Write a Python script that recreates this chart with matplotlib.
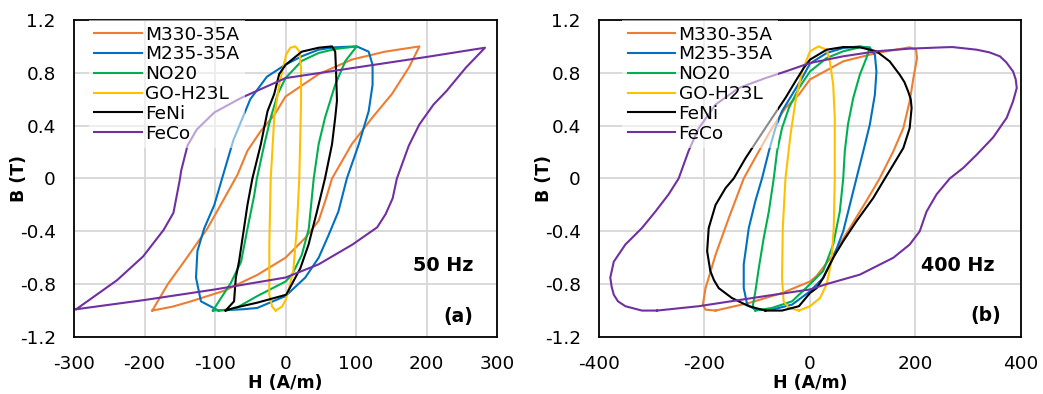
import matplotlib
matplotlib.use('Agg')
import matplotlib.pyplot as plt

# the reference text is wide (stretched Arial), DejaVu Sans matches its widths best
plt.rcParams['font.family'] = ['DejaVu Sans']
plt.rcParams['axes.unicode_minus'] = False

labels = ['M330-35A', 'M235-35A', 'NO20', 'GO-H23L', 'FeNi', 'FeCo']
colors = ['#ED7D31', '#0070C0', '#00B050', '#FFC000', '#000000', '#7030A0']

b_ticks = [-1.2, -0.8, -0.4, 0, 0.4, 0.8, 1.2]
b_tick_labels = ['-1.2', '-0.8', '-0.4', '0', '0.4', '0.8', '1.2']
h_ticks_50 = [-300, -200, -100, 0, 100, 200, 300]
h_ticks_400 = [-400, -200, 0, 200, 400]

# ---- 50 Hz loops (H in A/m, B in T) ----
m330_50_h = [-189, -160, -134, -87, -40, 0, 28, 47, 57, 66, 94, 123, 151, 175, 190, 141, 94, 47, 0, -16, -35,
             -54, -68, -92, -111, -144, -167, -189]
m330_50_b = [-1.0, -0.97, -0.93, -0.85, -0.73, -0.60, -0.45, -0.32, -0.16, 0.0, 0.26, 0.46, 0.64, 0.84, 1.0,
             0.96, 0.90, 0.79, 0.62, 0.48, 0.36, 0.21, 0.03, -0.2, -0.38, -0.63, -0.80, -1.0]

m235_50_h = [-95, -60, -40, 0, 28, 47, 61, 75, 87, 104, 118, 123.5, 123.5, 118, 101, 70, 47, 23, 0, -26.5, -50,
             -74, -90, -101, -115.5, -125, -127, -120, -95]
m235_50_b = [-1.0, -0.99, -0.98, -0.89, -0.75, -0.60, -0.43, -0.25, 0.0, 0.26, 0.51, 0.71, 0.86, 0.96, 1.0, 0.993,
             0.975, 0.925, 0.862, 0.77, 0.60, 0.29, 0.0, -0.2, -0.38, -0.55, -0.75, -0.93, -1.0]

no20_50_h = [-103, -73, -40, 0, 9, 23, 33, 40, 47, 56, 70.5, 85, 101, 70.5, 47, 23, 0, -11, -21, -30, -40.6,
             -44.5, -54, -63, -77.5, -103]
no20_50_b = [-1.0, -0.99, -0.89, -0.78, -0.73, -0.58, -0.38, 0.0, 0.26, 0.46, 0.71, 0.89, 1.0, 0.98, 0.95, 0.89,
             0.76, 0.64, 0.46, 0.26, 0.0, -0.13, -0.38, -0.63, -0.79, -1.0]

go_50_h = [-14, -5, 0, 4, 11, 16, 19.5, 21, 22, 22, 19.5, 14, 6.7, 1, -9, -16, -21, -23, -23, -19, -14]
go_50_b = [-1.0, -0.97, -0.92, -0.85, -0.70, -0.38, 0.0, 0.33, 0.585, 0.836, 0.963, 1.0, 0.99, 0.94, 0.71, 0.46,
           0.0, -0.5, -0.88, -0.97, -1.0]

feni_50_h = [-85, -73, -40, 1, 9, 21, 32.7, 44.6, 56, 66, 70.5, 73, 71.5, 70.5, 66, 47, 23, 0, -9, -16, -25.5,
             -35, -47, -54, -59, -66, -70.5, -73, -85]
feni_50_b = [-1.0, -0.98, -0.94, -0.88, -0.80, -0.68, -0.50, -0.25, 0.0, 0.26, 0.46, 0.59, 0.84, 0.96, 1.0, 0.99,
             0.96, 0.86, 0.79, 0.64, 0.51, 0.26, 0.0, -0.2, -0.38, -0.63, -0.75, -0.93, -1.0]

feco_50_h = [-297, -200, -100, 0, 47, 95, 130, 142, 152, 158, 175, 190, 210, 228, 256, 283, 200, 100, 0, -63,
             -101, -126, -139, -148, -150, -159, -173, -202, -239, -297]
feco_50_b = [-0.99, -0.92, -0.84, -0.75, -0.65, -0.50, -0.37, -0.27, -0.15, 0.0, 0.25, 0.41, 0.56, 0.66, 0.84,
             0.99, 0.92, 0.84, 0.76, 0.61, 0.50, 0.37, 0.25, 0.06, -0.01, -0.26, -0.39, -0.59, -0.77, -0.99]

# ---- 400 Hz loops ----
m330_400_h = [-179, -116, -53, 0, 12, 44, 75.5, 107, 132, 158, 177, 189, 196, 203, 201, 189, 126, 63, 0, -21,
              -46.5, -72, -97, -125.6, -154, -179, -198, -203, -198, -179]
m330_400_b = [-1.0, -0.943, -0.867, -0.78, -0.74, -0.577, -0.375, -0.17, 0.0, 0.206, 0.382, 0.585, 0.76, 0.912,
              0.975, 0.993, 0.95, 0.887, 0.75, 0.635, 0.534, 0.382, 0.206, 0.0, -0.30, -0.577, -0.83, -0.955,
              -0.993, -1.0]

m235_400_h = [-72, -34, 0, 25, 44, 63, 75.5, 88, 101, 113.5, 123, 126, 123, 113.5, 94.5, 63, 31.6, 0, -15, -34,
              -53, -65.5, -78, -91, -103.5, -116, -125.6, -125.6, -119, -103.5, -72]
m235_400_b = [-0.993, -0.955, -0.854, -0.753, -0.60, -0.40, -0.2, 0.0, 0.206, 0.41, 0.635, 0.81, 0.937, 0.988,
              1.0, 0.988, 0.95, 0.87, 0.76, 0.635, 0.51, 0.382, 0.206, 0.0, -0.17, -0.375, -0.65, -0.83, -0.955,
              -0.993, -0.993]

no20_400_h = [-103.5, -72, -34, 0, 25, 44, 56.5, 63, 66, 72, 82, 94.5, 107, 113.5, 94.5, 63, 31.6, 0, -21, -40,
              -53, -62.4, -68.7, -78, -87.7, -97, -103.5, -108.5, -103.5]
no20_400_b = [-1.0, -0.98, -0.93, -0.80, -0.70, -0.50, -0.25, 0.0, 0.206, 0.41, 0.61, 0.786, 0.912, 0.993, 0.993,
              0.963, 0.912, 0.81, 0.685, 0.534, 0.382, 0.206, 0.0, -0.25, -0.45, -0.677, -0.854, -0.967, -1.0]

go_400_h = [-21, 0, 19, 31.6, 40.7, 45, 47, 47, 44, 37.6, 31.6, 16, 0, -15, -27.5, -37, -46.5, -51.6, -53, -50,
            -40, -21]
go_400_b = [-1.0, -0.967, -0.905, -0.80, -0.627, -0.375, 0.0, 0.458, 0.71, 0.887, 0.975, 1.0, 0.963, 0.81, 0.585,
            0.33, 0.0, -0.375, -0.753, -0.93, -0.98, -1.0]

feni_400_h = [-84.5, -53, -21, 0, 12.6, 25, 44, 63, 88, 120, 142, 158, 177, 189, 192.6, 191, 186, 179, 170, 151,
              126, 94.5, 63, 31.6, 0, -11.8, -27.5, -46.5, -72, -97, -122, -144.6, -160, -179, -192, -195, -189,
              -182, -173, -148, -116, -84.5]
feni_400_b = [-1.0, -1.0, -0.967, -0.867, -0.83, -0.753, -0.60, -0.475, -0.324, -0.147, 0.0, 0.105, 0.231, 0.382,
              0.534, 0.60, 0.66, 0.73, 0.786, 0.887, 0.963, 0.993, 0.995, 0.975, 0.90, 0.837, 0.736, 0.61, 0.458,
              0.307, 0.155, 0.0, -0.072, -0.20, -0.375, -0.55, -0.70, -0.77, -0.83, -0.905, -0.967, -1.0]

feco_400_h = [-290, -211, -84.5, 0, 31, 94.5, 158, 189, 208, 221, 240, 265, 290.5, 316, 347, 373, 385, 392, 390,
              385, 372, 360, 340, 316, 270, 253, 189, 126, 63, 0, -46.5, -84.5, -135, -179, -211, -230, -249, -268,
              -293, -318.6, -350, -372, -378.6, -376, -372, -364, -350, -318.6, -290]
feco_400_b = [-1.0, -0.967, -0.89, -0.84, -0.80, -0.728, -0.60, -0.50, -0.40, -0.25, -0.12, 0.0, 0.08, 0.18,
              0.31, 0.46, 0.585, 0.685, 0.75, 0.81, 0.88, 0.925, 0.955, 0.975, 0.995, 0.993, 0.983, 0.963, 0.925,
              0.874, 0.81, 0.76, 0.685, 0.56, 0.38, 0.21, 0.0, -0.12, -0.25, -0.375, -0.50, -0.63, -0.75, -0.82,
              -0.88, -0.93, -0.967, -1.0, -1.0]

loops_50 = [(m330_50_h, m330_50_b), (m235_50_h, m235_50_b), (no20_50_h, no20_50_b),
            (go_50_h, go_50_b), (feni_50_h, feni_50_b), (feco_50_h, feco_50_b)]
loops_400 = [(m330_400_h, m330_400_b), (m235_400_h, m235_400_b), (no20_400_h, no20_400_b),
             (go_400_h, go_400_b), (feni_400_h, feni_400_b), (feco_400_h, feco_400_b)]


def draw_panel(ax, loops, h_ticks, freq_text, tag, legend_x, text_pos):
    '''
    one B-H panel with its loops, grid, legend and labels
    '''
    for (h, b), lab, col in zip(loops, labels, colors):
        ax.plot(h, b, color=col, lw=1.5, label=lab, solid_joinstyle='round')
    ax.set_xlim(h_ticks[0], h_ticks[-1])
    ax.set_ylim(-1.2, 1.2)
    ax.set_xticks(h_ticks)
    ax.set_xticklabels([str(t) for t in h_ticks])
    ax.set_yticks(b_ticks)
    ax.set_yticklabels(b_tick_labels)
    ax.grid(color='#d9d9d9', lw=1.4)
    ax.set_axisbelow(True)
    ax.tick_params(length=0, pad=13, labelsize=13.3)
    for s in ax.spines.values():
        s.set_linewidth(1.3)
    ax.set_xlabel('H (A/m)', fontweight='bold', fontsize=12.5)
    ax.set_ylabel('B (T)', fontweight='bold', fontsize=12.5)
    ax.xaxis.set_label_coords(0.5, -0.118)
    ax.yaxis.set_label_coords(-0.11, 0.5)
    (fx, fy), (tx, ty) = text_pos
    ax.text(fx, fy, freq_text, transform=ax.transAxes, ha='right', va='center',
            fontsize=13.8, fontweight='bold')
    ax.text(tx, ty, tag, transform=ax.transAxes, ha='right', va='center',
            fontsize=13.5, fontweight='bold')
    leg = ax.legend(loc='upper left', bbox_to_anchor=(legend_x, 1.0), borderaxespad=0, frameon=True,
                    framealpha=0.55, facecolor='white', edgecolor='none', fontsize=13.3,
                    handlelength=2.55, handletextpad=0.2, labelspacing=0.1, borderpad=0.3)
    leg.get_frame().set_boxstyle('square', pad=0)


fig = plt.figure(figsize=(10.43, 3.94), dpi=100)
ax1 = fig.add_axes([0.071, 0.1447, 0.4055, 0.8046])
ax2 = fig.add_axes([0.5743, 0.1447, 0.4046, 0.8046])

draw_panel(ax1, loops_50, h_ticks_50, '50 Hz', '(a)', 0.035, ((0.943, 0.227), (0.943, 0.066)))
draw_panel(ax2, loops_400, h_ticks_400, '400 Hz', '(b)', 0.055, ((0.938, 0.227), (0.954, 0.069)))

fig.savefig('out.png', dpi=100)
